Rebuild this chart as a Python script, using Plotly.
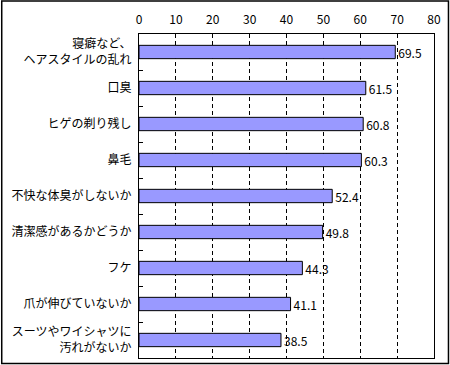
import plotly.graph_objects as go

categories = [
    "寝癖など、<br>ヘアスタイルの乱れ",
    "口臭",
    "ヒゲの剃り残し",
    "鼻毛",
    "不快な体臭がしないか",
    "清潔感があるかどうか",
    "フケ",
    "爪が伸びていないか",
    "スーツやワイシャツに<br>汚れがないか",
]
values = [69.5, 61.5, 60.8, 60.3, 52.4, 49.8, 44.3, 41.1, 38.5]
tick_vals = [0, 10, 20, 30, 40, 50, 60, 70, 80]

W, H = 450, 365
L, R, T, B = 138.5, 16, 34, 7
pw, ph = W - L - R, H - T - B

FONT = "Noto Sans CJK JP"

fig = go.Figure(go.Bar(
    x=values, y=categories, orientation="h",
    marker=dict(color="#9999FF", line=dict(color="black", width=1)),
    text=[f"{v:.1f}" for v in values], textposition="outside",
    textfont=dict(family=FONT, size=12, color="black"),
    constraintext="none",
    cliponaxis=False, width=0.37,
))

fig.update_layout(
    width=W, height=H, margin=dict(l=L, r=R, t=T, b=B, autoexpand=False),
    paper_bgcolor="white", plot_bgcolor="white", showlegend=False,
    font=dict(family=FONT, size=12, color="black"),
    xaxis=dict(range=[0, 80], side="top", tickvals=tick_vals, showgrid=True,
               gridcolor="black", griddash="4px,3px", gridwidth=1,
               showline=True, linecolor="black", linewidth=1, mirror=True,
               zeroline=False, ticks="", ticklabelstandoff=4,
               tickfont=dict(family=FONT, size=12, color="black"), fixedrange=True),
    yaxis=dict(autorange="reversed", showline=True, linecolor="black", linewidth=1,
               mirror=True, ticks="inside", tickson="boundaries", ticklen=4,
               tickcolor="black", showgrid=False, ticklabelstandoff=4,
               tickfont=dict(family=FONT, size=12, color="black"), fixedrange=True),
)

# outer frame around the whole picture
x0 = (1 - L) / pw
x1 = (W - 1.5 - L) / pw
y0 = -(B - 1.5) / ph
y1 = 1 + (T - 1) / ph
fig.add_shape(type="rect", xref="paper", yref="paper", x0=x0, x1=x1, y0=y0, y1=y1,
              line=dict(color="black", width=1.5), layer="above")

fig.write_html("out.html", config={"displayModeBar": False},
               post_script="document.body.style.margin='0';document.body.style.overflow='hidden';")
